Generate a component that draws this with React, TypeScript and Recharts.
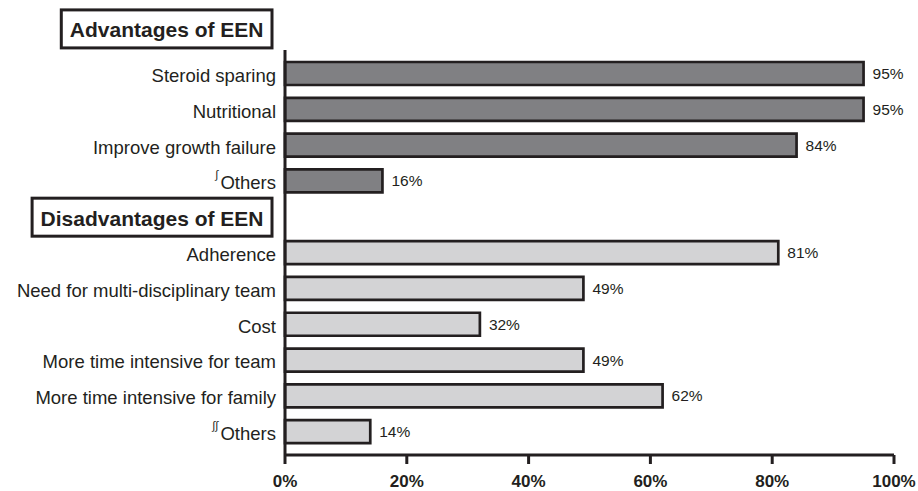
import { BarChart, Bar, XAxis, YAxis, Cell, LabelList } from 'recharts'

// values (percent of respondents)
const ADV_TITLE = 'Advantages of EEN'
const ADV_LABELS = ['Steroid sparing', 'Nutritional', 'Improve growth failure', 'Others']
const ADV_MARKS = ['', '', '', '\u222B']
const ADV_VALUES = [95, 95, 84, 16]

const DIS_TITLE = 'Disadvantages of EEN'
const DIS_LABELS = [
  'Adherence',
  'Need for multi-disciplinary team',
  'Cost',
  'More time intensive for team',
  'More time intensive for family',
  'Others',
]
const DIS_MARKS = ['', '', '', '', '', '\u222B\u222B']
const DIS_VALUES = [81, 49, 32, 49, 62, 14]

const X_TICKS = [0, 20, 40, 60, 80, 100]

const INK = '#231f20'
const ADV_FILL = '#808083'
const DIS_FILL = '#d3d3d5'
const FONT = '"Liberation Sans", Arial, Helvetica, sans-serif'

type Row = {
  key: string
  label: string
  mark: string
  value: number | null
  group: 'adv' | 'dis' | 'head'
  first?: boolean
}

const rows: Row[] = [
  ...ADV_LABELS.map((label, i) => ({
    key: `adv-${i}`,
    label,
    mark: ADV_MARKS[i],
    value: ADV_VALUES[i],
    group: 'adv' as const,
    first: i === 0,
  })),
  { key: 'dis-head', label: DIS_TITLE, mark: '', value: null, group: 'head' as const },
  ...DIS_LABELS.map((label, i) => ({
    key: `dis-${i}`,
    label,
    mark: DIS_MARKS[i],
    value: DIS_VALUES[i],
    group: 'dis' as const,
  })),
]

const rowByKey: Record<string, Row> = {}
rows.forEach((r) => (rowByKey[r.key] = r))

let measureCtx: CanvasRenderingContext2D | null = null
const measure = (text: string, font: string) => {
  if (!measureCtx) measureCtx = document.createElement('canvas').getContext('2d')
  if (!measureCtx) return text.length * 11
  measureCtx.font = font
  return measureCtx.measureText(text).width
}

const HeaderBox = ({ x, y, text }: { x: number; y: number; text: string }) => {
  const w = measure(text, `bold 21px ${FONT}`) + 17
  const right = x - 4
  return (
    <g>
      <rect x={right - w} y={y - 19} width={w} height={38} fill="#fff" stroke={INK} strokeWidth={3} />
      <text
        x={right - w / 2}
        y={y + 1}
        textAnchor="middle"
        dominantBaseline="central"
        fontSize={21}
        fontWeight="bold"
        fontFamily={FONT}
        fill={INK}
      >
        {text}
      </text>
    </g>
  )
}

const YTick = (props: any) => {
  const { x, y, payload } = props
  const row = rowByKey[payload.value]
  if (!row) return null
  if (row.group === 'head') return <HeaderBox x={x} y={y} text={row.label} />
  return (
    <g>
      {row.first && <HeaderBox x={x} y={y - 45} text={ADV_TITLE} />}
      <text
        x={x}
        y={y + 1}
        textAnchor="end"
        dominantBaseline="central"
        fontSize={18.5}
        fontFamily={FONT}
        fill={INK}
      >
        {row.mark && (
          <tspan fontSize={11} dy={-8} fontStyle="italic">
            {row.mark + '\u2009'}
          </tspan>
        )}
        <tspan dy={row.mark ? 8 : 0}>{row.label}</tspan>
      </text>
    </g>
  )
}

const App = () => {
  return (
    <div style={{ position: 'fixed', left: 0, top: 0, background: '#fff' }}>
      <BarChart
        width={918}
        height={491}
        data={rows}
        layout="vertical"
        margin={{ top: 50, right: 24, bottom: 0, left: 0 }}
        barCategoryGap={0}
      >
        <XAxis
          type="number"
          domain={[0, 100]}
          ticks={X_TICKS}
          tickFormatter={(v) => `${v}%`}
          height={36}
          axisLine={{ stroke: INK, strokeWidth: 3 }}
          tickLine={{ stroke: INK, strokeWidth: 3 }}
          tickSize={9}
          tickMargin={11}
          tick={{ fontSize: 17, fontWeight: 'bold', fill: INK, fontFamily: FONT }}
          interval={0}
        />
        <YAxis
          type="category"
          dataKey="key"
          width={285}
          padding={{ top: 6, bottom: 5 }}
          axisLine={{ stroke: INK, strokeWidth: 3 }}
          tickLine={false}
          tickSize={0}
          tickMargin={9}
          tick={<YTick />}
          interval={0}
        />
        <Bar dataKey="value" barSize={23} stroke={INK} strokeWidth={2.7} isAnimationActive={false}>
          {rows.map((r) => (
            <Cell key={r.key} fill={r.group === 'adv' ? ADV_FILL : DIS_FILL} />
          ))}
          <LabelList
            dataKey="value"
            position="right"
            offset={9}
            formatter={(v: any) => (v == null ? '' : `${v}%`)}
            style={{ fontSize: 15.5, fill: INK, fontFamily: FONT }}
          />
        </Bar>
      </BarChart>
    </div>
  )
}

export default App
